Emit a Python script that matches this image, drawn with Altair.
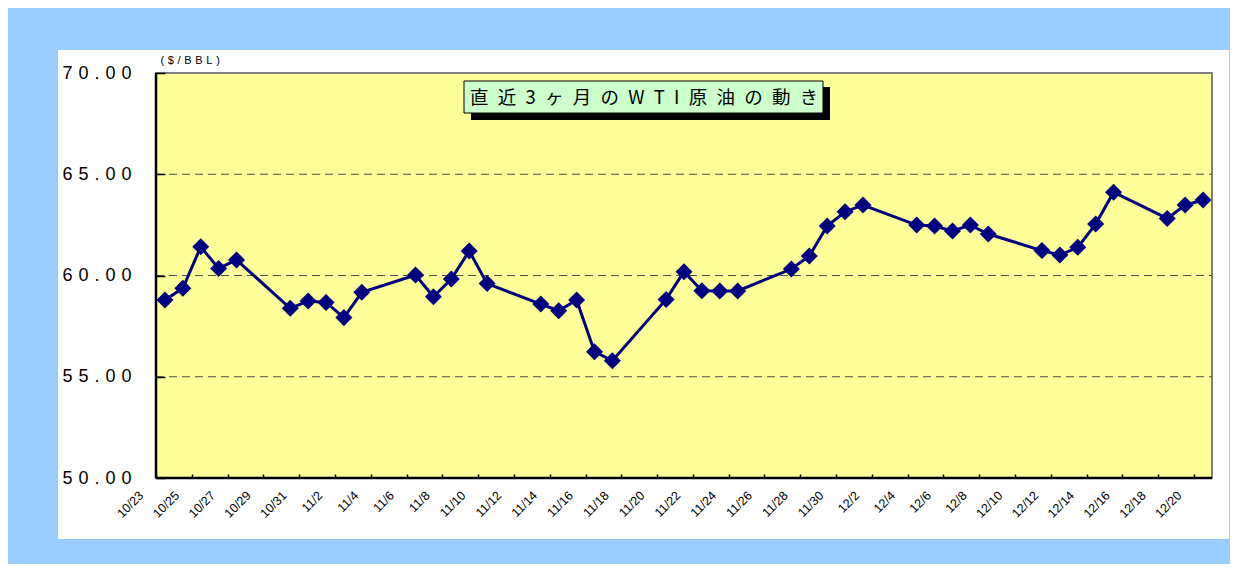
import altair as alt
import pandas as pd
from datetime import date, timedelta

YEAR = 2006

# ---- data ----
dates = ["10/23", "10/24", "10/25", "10/26", "10/27",
         "10/30", "10/31", "11/1", "11/2", "11/3",
         "11/6", "11/7", "11/8", "11/9", "11/10",
         "11/13", "11/14", "11/15", "11/16", "11/17",
         "11/20", "11/21", "11/22", "11/23", "11/24",
         "11/27", "11/28", "11/29", "11/30", "12/1",
         "12/4", "12/5", "12/6", "12/7", "12/8",
         "12/11", "12/12", "12/13", "12/14", "12/15",
         "12/18", "12/19", "12/20"]
prices = [58.79, 59.37, 61.42, 60.35, 60.77,
          58.38, 58.74, 58.67, 57.92, 59.17,
          60.02, 58.95, 59.83, 61.21, 59.60,
          58.59, 58.26, 58.79, 56.24, 55.79,
          58.82, 60.19, 59.25, 59.24, 59.24,
          60.32, 60.96, 62.44, 63.15, 63.48,
          62.49, 62.44, 62.20, 62.49, 62.05,
          61.23, 61.01, 61.39, 62.54, 64.11,
          62.82, 63.48, 63.73]
tick_labels = ["10/23", "10/25", "10/27", "10/29", "10/31", "11/2", "11/4",
               "11/6", "11/8", "11/10", "11/12", "11/14", "11/16", "11/18",
               "11/20", "11/22", "11/24", "11/26", "11/28", "11/30", "12/2",
               "12/4", "12/6", "12/8", "12/10", "12/12", "12/14", "12/16",
               "12/18", "12/20"]
y_ticks = [50, 55, 60, 65, 70]
grid_levels = [55, 60, 65]
title_text = "直近3ヶ月のWTI原油の動き"
unit_text = "($/BBL)"


def to_date(md):
    m, d = md.split("/")
    return date(YEAR, int(m), int(d))


def dt(d, hours=0):
    return alt.DateTime(year=d.year, month=d.month, date=d.day, hours=hours, utc=True)


df = pd.DataFrame({"date": [to_date(d).isoformat() for d in dates], "price": prices})
grid_df = pd.DataFrame({"price": grid_levels})
one = pd.DataFrame({"k": [0]})

W, H = 1056, 405
NAVY = "#000080"
SP = "\u2004"

first = to_date(dates[0]) - timedelta(days=1)
last = to_date(dates[-1])

x_enc = alt.X(
    "date:T",
    scale=alt.Scale(type="utc", domain=[dt(first, 12), dt(last, 12)]),
    axis=alt.Axis(
        values=[dt(to_date(t)) for t in tick_labels],
        labelExpr="utcFormat(datum.value, '%-m/%-d')",
        title=None, offset=-4, tickSize=4, tickOffset=-9, tickColor="black",
        tickWidth=1.5, domain=False, grid=False,
        labelAngle=-45, labelAlign="right", labelBaseline="middle",
        labelOffset=-15, labelPadding=15, labelFont="Liberation Sans",
        labelFontSize=12.5, labelColor="black", labelOverlap=False,
        labelFlush=False, labelBound=False, zindex=1,
    ),
)

y_enc = alt.Y(
    "price:Q",
    scale=alt.Scale(domain=[50, 70], nice=False, zero=False),
    axis=alt.Axis(
        values=y_ticks,
        labelExpr=f"floor(datum.value / 10) + '{SP}' + (datum.value % 10) + '{SP}.{SP}0{SP}0'",
        offset=-9, tickSize=9, tickColor="black", tickWidth=1.5,
        domain=False, grid=False, labelPadding=25,
        labelFont="Liberation Sans", labelFontSize=18, labelColor="black",
        title=SP.join(unit_text), titleAngle=0, titleAlign="left",
        titleBaseline="middle", titleX=-5, titleY=-13,
        titleFont="Liberation Sans", titleFontSize=11, titleFontWeight="normal",
        titleColor="black", zindex=1,
    ),
)

panel = alt.Chart(one).mark_rect(color="white").encode(
    x=alt.value(-98), x2=alt.value(W + 17), y=alt.value(-23), y2=alt.value(H + 61))

plot_bg = alt.Chart(one).mark_rect(fill="#FFFF99", stroke="#808080", strokeWidth=2).encode(
    x=alt.value(0), x2=alt.value(W), y=alt.value(0), y2=alt.value(H))

grid = alt.Chart(grid_df).mark_rule(color="#4d4d4d", strokeDash=[8, 5], strokeWidth=1).encode(
    x=alt.value(0), x2=alt.value(W), y=y_enc)

left_axis = alt.Chart(one).mark_rule(color="black", strokeWidth=2.5).encode(
    x=alt.value(0), y=alt.value(0), y2=alt.value(H))
bottom_axis = alt.Chart(one).mark_rule(color="black", strokeWidth=2.5).encode(
    x=alt.value(0), x2=alt.value(W), y=alt.value(H))

line = alt.Chart(df).mark_line(color=NAVY, strokeWidth=3).encode(x=x_enc, y=y_enc)
points = alt.Chart(df).mark_point(shape="diamond", filled=True, size=290,
                                  color=NAVY, opacity=1).encode(x=x_enc, y=y_enc)

shadow = alt.Chart(one).mark_rect(fill="black").encode(
    x=alt.value(315), x2=alt.value(674), y=alt.value(14), y2=alt.value(47))
box = alt.Chart(one).mark_rect(fill="#CCFFCC", stroke="black", strokeWidth=1).encode(
    x=alt.value(308), x2=alt.value(667), y=alt.value(8), y2=alt.value(40))
title = alt.Chart(one).mark_text(
    text="\u2002".join(title_text), font="Noto Sans CJK JP", fontSize=18.5,
    color="black", align="center", baseline="middle").encode(
    x=alt.value(488), y=alt.value(25))

chart = alt.layer(
    panel, plot_bg, grid, left_axis, bottom_axis, line, points, shadow, box, title
).properties(
    width=W, height=H, background="#99CCFF",
    padding={"left": 50, "top": 42, "right": 1, "bottom": 25},
).configure_view(stroke=None)

chart.save("out.html", embed_options={"renderer": "svg", "actions": False})
